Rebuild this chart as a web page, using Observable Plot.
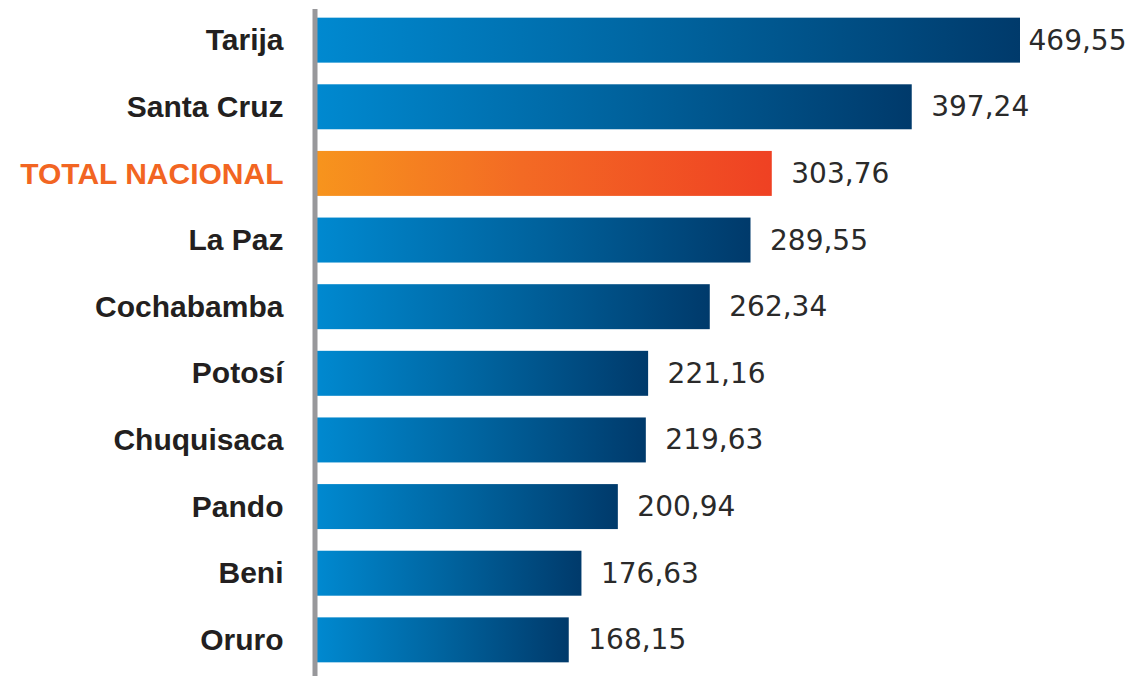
<!DOCTYPE html>
<html>
<head>
<meta charset="utf-8">
<script src="https://cdn.jsdelivr.net/npm/d3@7"></script>
<script src="https://cdn.jsdelivr.net/npm/@observablehq/plot@0.6"></script>
<style>
  html, body { margin: 0; padding: 0; background: #ffffff; }
  #chart svg { display: block; }
</style>
</head>
<body>
<div id="chart"></div>
<script>
const categories = ["Tarija", "Santa Cruz", "TOTAL NACIONAL", "La Paz", "Cochabamba", "Potosí", "Chuquisaca", "Pando", "Beni", "Oruro"];
const values = [469.55, 397.24, 303.76, 289.55, 262.34, 221.16, 219.63, 200.94, 176.63, 168.15];
const highlight = "TOTAL NACIONAL";

const data = categories.map((c, i) => ({category: c, value: values[i]}));
const regular = data.filter(d => d.category !== highlight);
const total = data.filter(d => d.category === highlight);
const maxValue = d3.max(values);
const topRow = data.filter(d => d.value === maxValue);
const otherRows = data.filter(d => d.value !== maxValue);
const fmt = v => v.toFixed(2).replace(".", ",");

const labelFont = "'Liberation Sans', Arial, sans-serif";
const valueFont = "'DejaVu Sans', sans-serif";
const labelStyle = {x: 0, y: "category", text: "category", textAnchor: "end", dx: -34,
  fontSize: 30, fontWeight: "bold", fontFamily: labelFont, letterSpacing: 1.2};
const valueStyle = {x: "value", y: "category", text: d => fmt(d.value), textAnchor: "start",
  fontSize: 28, fontFamily: valueFont, fill: "#2a2a2a"};

const chart = Plot.plot({
  width: 1136,
  height: 676,
  marginLeft: 317,
  marginRight: 116,
  marginTop: 11,
  marginBottom: 7,
  x: {domain: [0, 469.55], axis: null},
  y: {domain: categories, axis: null, paddingInner: 0.325, paddingOuter: 0.1, round: false},
  marks: [
    Plot.barX(regular, {x: "value", y: "category", fill: "url(#blueGrad)"}),
    Plot.barX(total, {x: "value", y: "category", fill: "url(#orangeGrad)"}),
    Plot.ruleX([0], {stroke: "#98989b", strokeWidth: 5, dx: -2.5, insetTop: -2, insetBottom: -7}),
    Plot.text(regular, {...labelStyle, fill: "#231f20"}),
    Plot.text(total, {...labelStyle, fill: "#f26522"}),
    Plot.text(otherRows, {...valueStyle, dx: 19}),
    Plot.text(topRow, {...valueStyle, dx: 8})
  ]
});

const defs = d3.select(chart).insert("defs", ":first-child");
const blue = defs.append("linearGradient").attr("id", "blueGrad")
  .attr("x1", "0").attr("y1", "0").attr("x2", "1").attr("y2", "0");
blue.append("stop").attr("offset", "0").attr("stop-color", "#0089d0");
blue.append("stop").attr("offset", "0.5").attr("stop-color", "#00639e");
blue.append("stop").attr("offset", "1").attr("stop-color", "#003a6b");
const orange = defs.append("linearGradient").attr("id", "orangeGrad")
  .attr("x1", "0").attr("y1", "0").attr("x2", "1").attr("y2", "0");
orange.append("stop").attr("offset", "0").attr("stop-color", "#f7941d");
orange.append("stop").attr("offset", "0.45").attr("stop-color", "#f36a24");
orange.append("stop").attr("offset", "1").attr("stop-color", "#ef4123");

document.getElementById("chart").appendChild(chart);
</script>
</body>
</html>
